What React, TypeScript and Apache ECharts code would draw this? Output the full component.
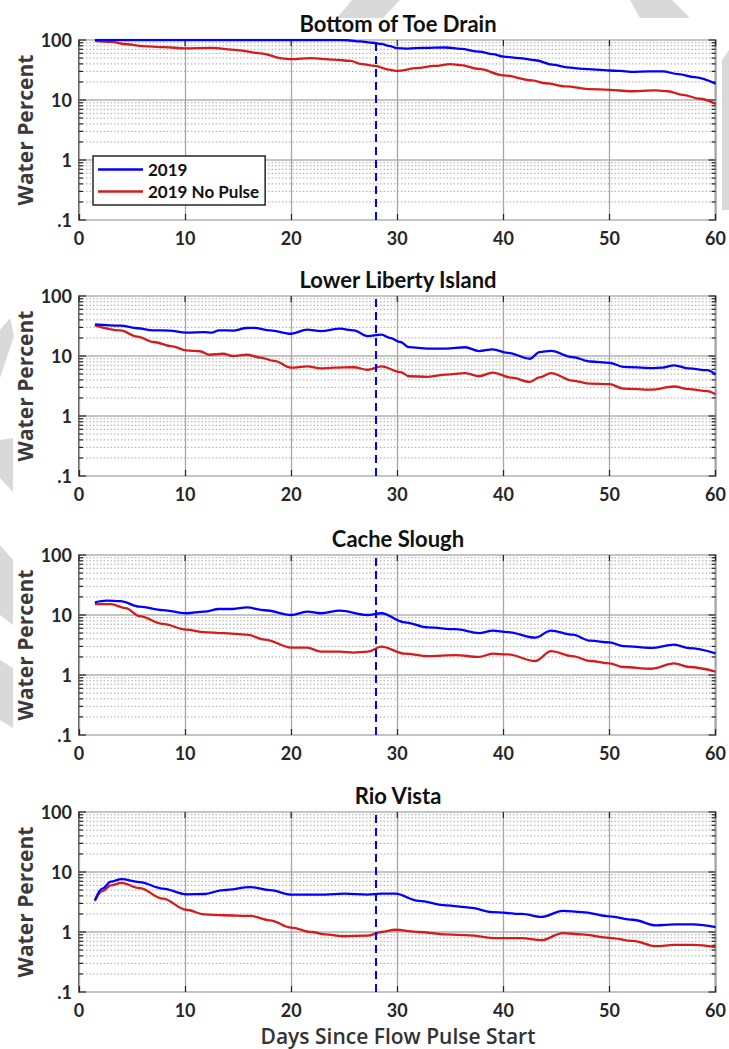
import React, { useEffect, useRef } from "react";
import * as echarts from "echarts";

// ---------- data ----------
const titles = ["Bottom of Toe Drain", "Lower Liberty Island", "Cache Slough", "Rio Vista"];
const seriesNames = ["2019", "2019 No Pulse"];
const xTicks = [0, 10, 20, 30, 40, 50, 60];
const yTickLabels = { 0.1: ".1", 1: "1", 10: "10", 100: "100" };
const pulseDay = 28;

const toeBlueX = [1.5, 5, 10, 15, 20, 24, 25.3, 26.5, 27.7, 28.5, 29.2, 30, 31, 32.5, 34.6, 36, 37.7, 39, 40, 41.5, 43, 44.6, 46, 47.5, 50, 51, 52, 53.8, 55, 56.5, 58, 60];
const toeBlueY = [100, 100, 100, 100, 100, 100, 99, 95, 90, 86, 80, 73, 72, 74, 75, 71, 64, 58, 53, 50, 46, 39, 35, 33, 31, 30.5, 29.5, 30, 30, 27, 24, 18.6];
const toeRedX = [1.5, 3, 4.5, 6, 8, 10, 12.4, 14.9, 17.1, 19.3, 20, 21.8, 24, 25.6, 26.5, 27.9, 29.2, 30, 31.8, 33.5, 35, 36, 37.7, 40, 42.7, 44, 45.9, 48, 50, 51.9, 54.4, 55.5, 56.9, 58.5, 60];
const toeRedY = [97, 93, 85, 79, 76, 72.5, 74, 68, 60, 49, 48, 50, 47, 45, 40, 37, 32, 30.5, 34, 37, 39.5, 38, 33, 25.8, 21.3, 19, 16.9, 15.2, 14.8, 14, 14.5, 14, 12.2, 10.5, 8.6];

const libBlueX = [1.5, 3.9, 5.5, 7, 8.5, 10.1, 11.8, 12.5, 13.2, 14.5, 15.8, 16.5, 18, 20, 21.5, 22.8, 24.6, 25.9, 27.2, 28.5, 29.3, 30.3, 31.1, 32.9, 34.6, 36.4, 37.7, 39, 40.4, 42.5, 43.4, 44.5, 46.5, 48.2, 50, 51.3, 53.9, 55, 56.1, 57.5, 59.2, 60];
const libBlueY = [33.7, 32, 29, 26.8, 26.5, 24.5, 25, 24.5, 26.8, 26.5, 29.3, 29.5, 26.8, 23.5, 27.5, 26, 28.5, 26.8, 21.5, 22.7, 20, 17.1, 14.1, 13.3, 13.3, 14, 12.1, 12.9, 11.3, 9.0, 11.6, 12.2, 9.6, 8.1, 7.7, 6.6, 6.3, 6.4, 7.0, 6.2, 5.8, 4.9];
const libRedX = [1.5, 3.9, 5.5, 7, 8.8, 10.1, 11.4, 12.3, 13.6, 14.5, 15.8, 17.1, 18.4, 20, 21.5, 22.8, 24, 25.9, 27.2, 28.5, 30.3, 31.1, 32.9, 34.6, 36.4, 37.7, 39, 40.8, 42.5, 43.4, 44.5, 46.5, 48.2, 50, 51.3, 53.9, 56.1, 57.5, 59.2, 60];
const libRedY = [32.5, 26.8, 21, 17.1, 14.5, 12.4, 12, 10.5, 10.9, 10, 10.5, 9.4, 8.3, 6.4, 6.7, 6.2, 6.4, 6.5, 5.9, 6.7, 5.4, 4.6, 4.5, 4.9, 5.2, 4.6, 5.3, 4.35, 3.7, 4.4, 5.2, 3.9, 3.46, 3.4, 2.86, 2.75, 3.1, 2.8, 2.6, 2.3];

const cacheBlueX = [1.5, 2.6, 3.9, 5.7, 7.9, 10.1, 11.8, 13.2, 14.5, 15.8, 17.5, 20, 21.5, 22.8, 24.6, 27.2, 28.5, 30.7, 32.9, 35.5, 37.7, 39, 40.4, 43, 44.5, 46.5, 48.2, 50, 51.3, 53.9, 56.1, 57.5, 60];
const cacheBlueY = [16.3, 17.3, 17, 13.8, 12.1, 10.7, 11.4, 12.6, 12.6, 13.4, 12, 10, 11.4, 10.7, 11.8, 10, 10.7, 7.55, 6.2, 5.8, 5.0, 5.5, 5.2, 4.2, 5.5, 4.7, 3.73, 3.5, 3.04, 2.83, 3.2, 2.8, 2.3];
const cacheRedX = [1.5, 3, 4.4, 5.7, 7.9, 10.1, 11.8, 13.6, 15.8, 17.5, 20, 21.5, 22.8, 24.6, 25.9, 27.2, 28.5, 30.7, 32.9, 35.5, 37.7, 39, 40.4, 43, 44.5, 46.5, 48.2, 50, 51.3, 53.9, 56.1, 57.5, 60];
const cacheRedY = [15.2, 15.2, 13, 9.6, 7.1, 5.7, 5.2, 5.0, 4.7, 3.9, 2.86, 2.86, 2.45, 2.45, 2.36, 2.45, 2.97, 2.27, 2.07, 2.15, 2.0, 2.27, 2.2, 1.71, 2.5, 2.07, 1.71, 1.56, 1.36, 1.27, 1.56, 1.36, 1.14];

const rioBlueX = [1.5, 2.2, 3.0, 4.0, 5.7, 7.9, 10.1, 11.8, 13.6, 16.2, 18, 20, 23.2, 25, 27.2, 28.5, 29.8, 32, 34.6, 36.8, 39, 41.7, 43.6, 45.6, 47.4, 50, 52.2, 54.4, 56.1, 57.9, 60];
const rioBlueY = [3.4, 5.3, 6.9, 7.6, 6.8, 5.3, 4.25, 4.3, 5.0, 5.6, 5.0, 4.2, 4.2, 4.35, 4.2, 4.35, 4.35, 3.3, 2.78, 2.55, 2.15, 2.0, 1.78, 2.25, 2.15, 1.82, 1.6, 1.29, 1.34, 1.34, 1.21];
const rioRedX = [1.5, 2.2, 3.0, 4.0, 5.7, 7.9, 10.1, 11.8, 13.6, 16.2, 18, 20, 21.9, 23.2, 25, 27.2, 28.5, 29.8, 32, 34.6, 36.8, 39, 41.7, 43.6, 45.6, 47.4, 50, 52.2, 54.4, 56.1, 57.9, 60];
const rioRedY = [3.3, 4.8, 6.0, 6.6, 5.4, 3.6, 2.35, 1.97, 1.9, 1.85, 1.56, 1.18, 1.0, 0.91, 0.85, 0.87, 1.0, 1.09, 1.0, 0.91, 0.88, 0.79, 0.79, 0.73, 0.96, 0.91, 0.8, 0.71, 0.58, 0.61, 0.61, 0.56];

const minorY = [0.2, 0.3, 0.4, 0.5, 0.6, 0.7, 0.8, 0.9, 2, 3, 4, 5, 6, 7, 8, 9, 20, 30, 40, 50, 60, 70, 80, 90];
const majorY = [0.1, 1, 10, 100];

const blueX = [toeBlueX, libBlueX, cacheBlueX, rioBlueX];
const blueY = [toeBlueY, libBlueY, cacheBlueY, rioBlueY];
const redX = [toeRedX, libRedX, cacheRedX, rioRedX];
const redY = [toeRedY, libRedY, cacheRedY, rioRedY];

// ---------- layout ----------
const W = 729;
const H = 1049;
const GL = 79;
const GW = 638;
const GH = 180;
const tops = [40, 296, 555, 812];
const BLUE = "#0000ff";
const RED = "#d41c1c";
const INK = "#262626";

const zip = (xs: number[], ys: number[]) => xs.map((x, i) => [x, ys[i]]);

export default function App() {
  const ref = useRef<HTMLDivElement>(null);
  useEffect(() => {
    document.body.style.margin = "0";
    if (!ref.current) return;
    const chart = echarts.init(ref.current, null, { renderer: "svg" });

    const grids = tops.map((t) => ({
      left: GL, top: t, width: GW, height: GH, show: true,
      borderColor: INK, borderWidth: 1.5, backgroundColor: "#fff",
    }));
    const xAxes = tops.map((_, i) => ({
      type: "value", gridIndex: i, min: 0, max: 60, interval: 10,
      axisLine: { show: false },
      axisTick: { show: true, inside: true, length: 6, lineStyle: { color: INK, width: 1.2 } },
      axisLabel: {
        fontSize: 18, fontWeight: "bold", fontFamily: "Lato", color: INK, margin: 9,
        formatter: (v: number) => (xTicks.includes(v) ? String(v) : ""),
      },
      splitLine: { show: true, lineStyle: { color: "#a6a6a6", width: 1.3 } },
    }));
    const yAxes = tops.map((_, i) => ({
      type: "log", logBase: 10, gridIndex: i, min: 0.1, max: 100,
      axisLine: { show: false },
      axisTick: { show: false },
      axisLabel: {
        fontSize: 18, fontWeight: "bold", fontFamily: "Lato", color: INK, margin: 7,
        formatter: (v: number) => {
          const k = majorY.find((m) => Math.abs(Math.log10(m) - Math.log10(v)) < 1e-6);
          return k !== undefined ? (yTickLabels as any)[k] : "";
        },
      },
      splitLine: { show: true, lineStyle: { color: "#c4c4c4", width: 2 } },
    }));

    const series: any[] = [];
    tops.forEach((_, i) => {
      // minor grid + y ticks (left and right)
      series.push({
        type: "custom", xAxisIndex: i, yAxisIndex: i, silent: true, z: 1,
        data: [...minorY.map((v) => [0, v, 1]), ...majorY.map((v) => [0, v, 0])],
        renderItem: (params: any, api: any) => {
          const v = api.value(1);
          const minor = api.value(2) === 1;
          const p0 = api.coord([0, v]);
          const p1 = api.coord([60, v]);
          const len = minor ? 4 : 7;
          const children: any[] = [];
          if (minor) {
            children.push({
              type: "line", shape: { x1: p0[0], y1: p0[1], x2: p1[0], y2: p1[1] },
              style: { stroke: "#a9a9a9", lineWidth: 1, lineDash: [1.5, 2] },
            });
          }
          children.push({
            type: "line", shape: { x1: p0[0], y1: p0[1], x2: p0[0] + len, y2: p0[1] },
            style: { stroke: INK, lineWidth: 1.2 },
          });
          children.push({
            type: "line", shape: { x1: p1[0] - len, y1: p1[1], x2: p1[0], y2: p1[1] },
            style: { stroke: INK, lineWidth: 1.2 },
          });
          return { type: "group", children };
        },
      });
      // top x ticks
      series.push({
        type: "custom", xAxisIndex: i, yAxisIndex: i, silent: true, z: 1,
        data: xTicks.map((x) => [x, 100]),
        renderItem: (params: any, api: any) => {
          const p = api.coord([api.value(0), 100]);
          return {
            type: "line", shape: { x1: p[0], y1: p[1], x2: p[0], y2: p[1] + 6 },
            style: { stroke: INK, lineWidth: 1.2 },
          };
        },
      });
      series.push({
        name: seriesNames[0], type: "line", xAxisIndex: i, yAxisIndex: i, z: 5,
        data: zip(blueX[i], blueY[i]), showSymbol: false, symbol: "none",
        smooth: 0.35, smoothMonotone: "x",
        color: BLUE, lineStyle: { color: BLUE, width: 2.3 },
        markLine: {
          silent: true, symbol: ["none", "none"], label: { show: false },
          lineStyle: { color: BLUE, type: [8, 5], width: 2 },
          data: [{ xAxis: pulseDay }],
        },
      });
      series.push({
        name: seriesNames[1], type: "line", xAxisIndex: i, yAxisIndex: i, z: 4,
        data: zip(redX[i], redY[i]), showSymbol: false, symbol: "none",
        smooth: 0.35, smoothMonotone: "x",
        color: RED, lineStyle: { color: RED, width: 2.3 },
      });
    });

    const graphics: any[] = [];
    // faint watermark fragments
    const wm = "#d9d9d9";
    graphics.push({ type: "polygon", z: -100, shape: { points: [[352, 0], [400, 0], [383, 18], [337, 18]] }, style: { fill: wm } });
    graphics.push({ type: "polygon", z: -100, shape: { points: [[630, 0], [672, 0], [690, 18], [640, 18]] }, style: { fill: wm } });
    graphics.push({ type: "polygon", z: -100, shape: { points: [[729, 50], [729, 210], [722, 210], [722, 60]] }, style: { fill: wm } });
    graphics.push({ type: "polygon", z: -100, shape: { points: [[0, 330], [10, 318], [14, 336], [0, 378]] }, style: { fill: wm } });
    graphics.push({ type: "polygon", z: -100, shape: { points: [[0, 440], [13, 438], [13, 492], [0, 478]] }, style: { fill: wm } });
    graphics.push({ type: "polygon", z: -100, shape: { points: [[0, 545], [13, 560], [13, 625], [0, 615]] }, style: { fill: wm } });
    graphics.push({ type: "polygon", z: -100, shape: { points: [[0, 660], [13, 668], [13, 728], [0, 720]] }, style: { fill: wm } });

    tops.forEach((t, i) => {
      graphics.push({
        type: "text", x: GL + GW / 2, y: t - 6,
        style: {
          text: titles[i], textAlign: "center", textVerticalAlign: "bottom",
          fontSize: 22, fontWeight: "bold", fontFamily: "Lato", fill: "#111",
        },
      });
      graphics.push({
        type: "text", x: 25, y: t + GH / 2, rotation: Math.PI / 2,
        style: {
          text: "Water Percent", textAlign: "center", textVerticalAlign: "middle",
          fontSize: 21, fontWeight: "bold", fontFamily: "Open Sans", fill: "#3a3a3a",
        },
      });
    });
    graphics.push({
      type: "text", x: GL + GW / 2, y: 1036,
      style: {
        text: "Days Since Flow Pulse Start", textAlign: "center", textVerticalAlign: "middle",
        fontSize: 21, fontWeight: 600, fontFamily: "Open Sans", fill: "#333",
      },
    });

    chart.setOption({
      animation: false,
      backgroundColor: "#fff",
      grid: grids,
      xAxis: xAxes,
      yAxis: yAxes,
      legend: {
        data: seriesNames, left: 93, top: 156, orient: "vertical", icon: "rect",
        padding: [5, 6, 5, 5], itemGap: 5, itemWidth: 45, itemHeight: 2.5,
        borderColor: INK, borderWidth: 1.5, backgroundColor: "#fff", borderRadius: 0,
        textStyle: { fontSize: 17, fontWeight: "bold", fontFamily: "Lato", color: "#111" },
        selectedMode: false,
      },
      series,
      graphic: graphics,
    });
    return () => chart.dispose();
  }, []);
  return <div ref={ref} style={{ width: W, height: H }} />;
}
